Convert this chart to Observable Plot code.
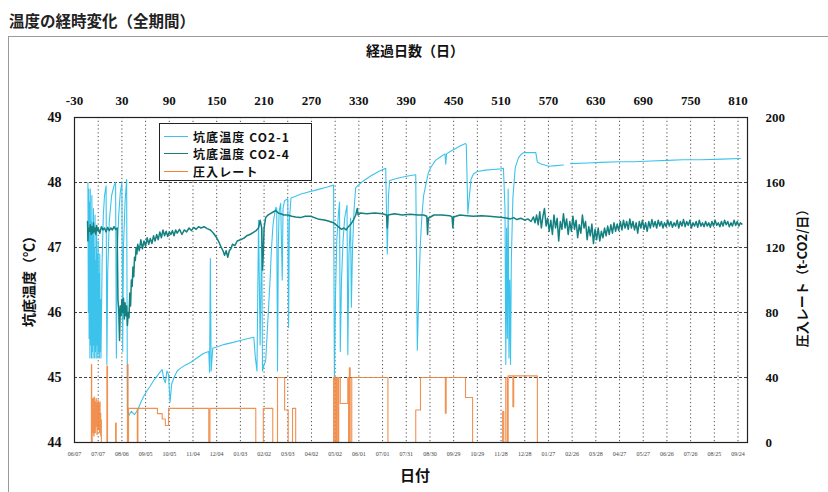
<!DOCTYPE html>
<html><head><meta charset="utf-8">
<script src="https://cdn.jsdelivr.net/npm/d3@7"></script>
<script src="https://cdn.jsdelivr.net/npm/@observablehq/plot@0.6"></script>
<style>
body{margin:0;background:#fff;width:828px;height:492px;overflow:hidden;position:relative;font-family:"Noto Sans CJK JP","Noto Sans",sans-serif;}
#chart{position:absolute;left:0;top:0;}
#chart svg, #chart svg text{font-family:"Liberation Serif","DejaVu Serif",serif !important;}
#frame{position:absolute;left:8px;top:36px;width:900px;height:600px;border-left:1.5px solid #9a9a9a;border-top:1.5px solid #9a9a9a;z-index:5;pointer-events:none;}
#title{position:absolute;left:9px;top:9px;font-size:15.5px;font-weight:bold;color:#222;white-space:nowrap;}
.lbl{position:absolute;font-weight:bold;color:#111;white-space:nowrap;transform:translate(-50%,-50%);z-index:6;}
.rot{transform:translate(-50%,-50%) rotate(-90deg);}
#legend{position:absolute;left:159px;top:123px;width:151px;height:56px;border:1.5px solid #222;background:#fff;z-index:6;}
#legend .sw{position:absolute;left:4px;width:24px;height:0;border-top:1.5px solid;}
#legend .tx{position:absolute;left:33px;font-size:12px;font-weight:bold;color:#111;white-space:nowrap;letter-spacing:1.1px;transform:translateY(-50%);}
</style></head>
<body>
<div id="chart"></div>
<div id="frame"></div>
<div id="title">温度の経時変化（全期間）</div>
<div class="lbl" style="left:415px;top:50px;font-size:14px;">経過日数（日）</div>
<div class="lbl" style="left:415px;top:474px;font-size:15px;">日付</div>
<div class="lbl rot" style="left:28px;top:278px;font-size:14px;">坑底温度（℃）</div>
<div class="lbl rot" style="left:801px;top:275px;font-size:13px;">圧入レート（t-CO2/日）</div>
<div id="legend"></div>
<script>
// elapsed days (day 0 = 2003-07-07)
const topTicks = d3.range(-30, 811, 60);
const dateTicks = d3.range(-30, 811, 30);
const tempTicks = [44, 45, 46, 47, 48, 49];
const rateTicks = [0, 40, 80, 120, 160, 200];
const seriesNames = ["坑底温度 CO2-1", "坑底温度 CO2-4", "圧入レート"];
const seriesColors = ["#3cc3ec", "#148080", "#f0843c"];

// CO2-1 bottom-hole temperature [day, °C]
const co2_1 = [
[-13,48.0],[-12.5,46.0],[-12,47.9],[-11.5,45.6],[-11,47.7],[-10.5,45.3],[-10,47.9],[-9.5,45.5],[-9,47.4],[-8.5,45.3],[-8,47.8],[-7.5,45.4],[-7,47.2],[-6.5,45.3],[-6,47.6],[-5.5,45.5],[-5,47.0],[-4.5,45.3],[-4,47.5],[-3.5,45.4],[-3,46.8],[-2.5,45.3],[-2,47.3],[-1.5,45.5],[-1,46.9],[-0.5,45.3],[0,47.1],[0.5,45.4],[1,46.6],[1.5,45.3],[2,46.9],[2.5,45.4],[3,46.2],[3.5,45.3],
[5,46.8],[6.5,47.5],[8,47.8],[10,47.95],[11,45.2],[12,46.6],[14,47.4],[17,47.8],[20,47.95],[22,48.0],[23,45.3],[24,46.9],[26,47.5],[28,47.85],[30,48.0],[31,45.4],[32,47.0],[34,47.7],[36,48.05],[37,44.5],[39,44.42],[42,44.48],[46,44.43],[50,44.5],[54,44.62],[58,44.72],[62,44.8],[66,44.87],[70,44.95],[75,45.03],[78,45.08],[81,45.12],[83,44.98],[85,44.92],[87,45.1],[89,45.05],[91,44.62],[93,44.9],[96,45.0],[100,45.1],[104,45.14],[110,45.19],[117,45.23],[125,45.3],[133,45.37],[140,45.4],[141,45.08],[142,46.83],[143,45.1],[145,45.45],[150,45.47],[160,45.51],[171,45.54],[180,45.57],[190,45.6],[197,45.62],[199,45.3],[201,45.1],[203,47.42],[205,45.5],[207,47.3],[208,45.1],[210,45.2],[212,45.25],[214,45.7],[216,46.14],[218,46.6],[219,46.9],[221,47.3],[222,47.42],[225,47.62],[226,47.6],[227,45.1],[228,47.0],[229,47.55],[231,47.68],[233,46.5],[234,47.6],[236,47.72],[240,47.75],[241,45.77],[242,47.4],[244,47.76],[250,47.79],[256,47.82],[265,47.85],[278,47.89],[290,47.93],[298,47.96],
[299,45.0],[300.5,46.3],[302,47.1],[304,47.5],[305.5,47.7],[306.5,45.4],[308,46.5],[310,47.1],[312,47.45],[315,47.65],[316,45.35],[317.5,46.9],[319.5,47.45],[320.5,46.08],[322,47.0],[324,47.6],[326,47.92],[335,48.02],[345,48.1],[355,48.17],[364,48.22],[366,46.9],[367.5,47.8],[369,48.03],[380,48.07],[392,48.1],[402,48.12],[404,45.42],[406,46.4],[408,47.1],[410,47.52],[412,47.8],[415,47.98],[418,48.15],[421,48.23],[427,48.34],[434,48.4],[439,48.44],[440,48.28],[441,48.44],[446,48.48],[452,48.52],[458,48.56],[465,48.6],[466,48.58],[468,47.52],[470,47.8],[472,48.05],[475,48.13],[480,48.17],[490,48.19],[500,48.2],[510,48.21],[513,48.22],[515,47.6],[516,45.2],[517,47.3],[518,45.6],[519,47.9],[520,45.3],[521,46.5],[522,45.2],[523,46.8],[525,47.77],[528,48.23],[532,48.38],[536,48.44],[539,48.46],[546,48.46],[554,48.46],[556,48.31],[560,48.29],[565,48.27],[570,48.25],[580,48.26],[589,48.27],[593,NaN],[598,48.29],[620,48.3],[636,48.31],[660,48.32],[678,48.32],[700,48.33],[721,48.34],[740,48.35],[763,48.35],[790,48.36],[813,48.37]
];

// CO2-4 bottom-hole temperature [day, °C]
const co2_4 = [
[-13.5,47.4],[-13,47.1],[-12.5,47.3],[-11,47.25],[-10,47.35],[-9,47.2],[-8,47.32],[-7,47.22],[-6,47.38],[-5,47.24],[-4,47.3],[-3,47.2],[-2,47.34],[-1,47.26],[0,47.3],[2,47.22],[4,47.32],[6,47.27],[8,47.3],[10,47.24],[12,47.31],[14,47.26],[16,47.3],[18,47.27],[20,47.32],[22,47.28],[24,47.3],
[25,46.2],[26,46.05],[27,45.57],[28,46.1],[29,45.95],[30,46.2],[31,46.0],[32,46.22],[33,45.9],[34,46.15],[35,45.95],[36,46.1],[37,45.8],[38,46.0],[39,45.92],[40,46.3],[41,46.1],[42,46.5],[43,46.4],[44,46.7],[45,46.55],[46,46.85],[47,46.8],[48,47.0],[49,46.9],[50,47.05],[52,46.95],[54,47.12],[56,46.98],[58,47.1],[60,47.02],[62,47.15],[64,47.05],[66,47.14],[68,47.06],[70,47.18],[72,47.1],[74,47.2],[76,47.12],[78,47.24],[80,47.15],[82,47.27],[84,47.18],[86,47.25],[88,47.17],[90,47.24],[92,47.2],[94,47.26],[96,47.18],[98,47.27],[100,47.22],[103,47.28],[106,47.2],[109,47.27],[112,47.24],[115,47.3],[118,47.26],[121,47.31],[124,47.28],[127,47.32],[130,47.3],[134,47.32],[138,47.29],[142,47.27],[146,47.22],[150,47.15],[153,47.08],[155,47.02],[158,46.95],[160,46.88],[162,46.95],[164,46.85],[166,46.95],[168,46.98],[170,47.05],[173,47.03],[176,47.1],[180,47.12],[184,47.14],[188,47.18],[192,47.2],[196,47.23],[200,47.26],[203,47.3],[205,47.42],[207,47.3],[208,46.65],[209,46.9],[210,47.3],[212,47.46],[215,47.5],[218,47.52],[222,47.55],[225,47.57],[228,47.53],[231,47.52],[235,47.5],[240,47.5],[245,47.48],[250,47.47],[256,47.46],[262,47.48],[269,47.48],[278,47.44],[288,47.42],[298,47.38],[304,47.32],[308,47.28],[311,47.3],[314,47.27],[316,47.31],[320,47.36],[323,47.42],[326,47.5],[328,47.6],[329,47.5],[332,47.53],[340,47.52],[350,47.53],[360,47.52],[365,47.5],[366,47.3],[367,47.5],[375,47.52],[385,47.5],[395,47.51],[405,47.5],[412,47.5],[416,47.48],[417,47.2],[418,47.45],[425,47.5],[435,47.5],[445,47.49],[448,47.47],[449,47.3],[450,47.47],[458,47.5],[467,47.49],[475,47.48],[485,47.49],[495,47.48],[505,47.47],[512,47.46],[518,47.45],[522,47.44],[526,47.46],[530,47.43],[535,47.45],[540,47.42],[544,47.44],[548,47.4],[551,47.47],[553,47.38],[555,47.5],[557,47.35],[559,47.55],[561,47.3],[563,47.48],[565,47.6],[567,47.33],[569,47.45],[571,47.25],[573,47.42],[575,47.2],[577,47.5],[579,47.3],[581,47.45],[583,47.1],[585,47.4],[587,47.28],[589,47.52],[591,47.3],[593,47.44],[595,47.2],[597,47.4],[599,47.25],[601,47.48],[603,47.28],[605,47.42],[607,47.15],[609,47.35],[611,47.22],[613,47.5],[615,47.3],[617,47.4],[619,47.12],[621,47.32],[623,47.18],[625,47.36],[627,47.06],[629,47.28],[631,47.12],[633,47.3],[635,47.1],[637,47.25],[639,47.15],[641,47.3],[643,47.18],[645,47.33],[647,47.2],[649,47.35],[651,47.22],[653,47.38],[655,47.25],[657,47.36],[659,47.26],[661,47.4],[663,47.27],[665,47.42],[667,47.3],[669,47.4],[671,47.28],[673,47.44],[675,47.3],[677,47.4],[679,47.27],[681,47.38],[683,47.22],[685,47.4],[687,47.3],[689,47.42],[691,47.28],[693,47.38],[695,47.25],[697,47.4],[699,47.3],[701,47.43],[703,47.32],[705,47.4],[707,47.3],[709,47.42],[711,47.33],[713,47.4],[715,47.3],[717,47.38],[719,47.32],[721,47.42],[723,47.33],[725,47.4],[727,47.31],[729,47.38],[731,47.33],[733,47.42],[735,47.3],[737,47.4],[739,47.33],[741,47.43],[743,47.32],[745,47.4],[747,47.34],[749,47.42],[751,47.3],[753,47.38],[755,47.33],[757,47.4],[759,47.31],[761,47.42],[763,47.33],[765,47.38],[767,47.32],[769,47.4],[771,47.33],[773,47.38],[775,47.31],[777,47.4],[779,47.33],[781,47.42],[783,47.34],[785,47.38],[787,47.32],[789,47.4],[791,47.33],[793,47.42],[795,47.35],[797,47.4],[799,47.32],[801,47.38],[803,47.33],[805,47.42],[807,47.34],[809,47.4],[811,47.33],[813,47.38],[815,47.36]
];

// injection rate [day, t-CO2/day]
const rate = [
[-30,0],[-9,0],[-8.6,48],[-8.2,0],[-7.6,24],[-7.2,6],[-6.8,27],[-6.4,10],[-6,22],[-5.6,4],[-5.2,28],[-4.8,12],[-4.4,25],[-4,6],[-3.6,20],[-3.2,10],[-2.8,27],[-2.4,14],[-2,24],[-1.6,5],[-1.2,22],[-0.8,12],[-0.4,26],[0,8],[0.4,24],[0.8,15],[1.2,20],[1.6,6],[2,25],[2.4,10],[2.8,18],[3.2,4],[3.6,14],[4,0],
[11,47],[11.8,0],[22,12],[22.8,0],[37,48],[37.8,0],[38.4,21],[49.5,0],[50.3,21],[75,17.8],[81,14.5],[85,10.5],[89,21],[140,0],[141.5,21],[199.5,0],[209,21],[221,0],[227,40],[236,20],[240.5,0],[246,21],[250,0],[298,40],[299.5,0],[300,40],[301.5,0],[302,40],[303.5,0],[304.5,40],[306.5,24],[316,40],[317,0],[318,46],[319,0],[321,40],[366.8,0],[402,20],[408,40],[439.5,18],[440.5,40],[465,27.7],[474,0],[512,19],[513.5,0],[516,40],[518,0],[519,41],[525,22],[526,41],[556,0],[822,0]
];

const base = Date.UTC(2003, 6, 7);
const fmtDate = d3.utcFormat("%m/%d");
const dayToDate = d => fmtDate(new Date(base + d * 864e5));
const rateToY = r => 44 + r * 5 / 200;
const serif = "Liberation Serif";

const chart = Plot.plot({
  width: 828, height: 492,
  marginLeft: 74, marginRight: 81, marginTop: 117, marginBottom: 50,
  x: {domain: [-30, 822]},
  y: {domain: [44, 49]},
  style: {fontSize: "13px", color: "#111", background: "#fff", fontFamily: serif},
  marks: [
    Plot.gridX({ticks: dateTicks.filter(d => d > -30), stroke: "#333", strokeOpacity: 0.85, strokeDasharray: "1.2,2.6"}),
    Plot.gridY({ticks: tempTicks.slice(1, 5), stroke: "#222", strokeOpacity: 0.85, strokeDasharray: "3,2"}),
    Plot.line(co2_1, {x: d => d[0], y: d => d[1], stroke: seriesColors[0], strokeWidth: 1.1}),
    Plot.line(co2_4, {x: d => d[0], y: d => d[1], stroke: seriesColors[1], strokeWidth: 1.5}),
    Plot.line(rate, {x: d => d[0], y: d => rateToY(d[1]), curve: "step-after", stroke: seriesColors[2], strokeWidth: 1.1, strokeOpacity: 0.9}),
    Plot.frame({stroke: "#222", strokeWidth: 1.2}),
    Plot.axisY({ticks: tempTicks, tickFormat: d => d.toFixed(0), tickSize: 0, tickPadding: 13, label: null, fontWeight: "bold", fontSize: 14, fontFamily: serif}),
    Plot.axisY({anchor: "right", ticks: rateTicks.map(rateToY), tickFormat: (d, i) => String(rateTicks[i]), tickSize: 0, tickPadding: 18, label: null, fontSize: 13, fontWeight: "bold", fontFamily: serif}),
    Plot.axisX({anchor: "top", ticks: topTicks, tickFormat: d => String(d), tickSize: 0, tickPadding: 13, label: null, fontWeight: "bold", fontSize: 13, fontFamily: serif}),
    Plot.axisX({anchor: "bottom", ticks: dateTicks, tickFormat: dayToDate, tickSize: 0, tickPadding: 9, label: null, fontSize: 6, fill: "#444", fontFamily: serif})
  ]
});
document.getElementById("chart").appendChild(chart);
chart.querySelectorAll("text").forEach(t => t.style.fontFamily = "'Liberation Serif', 'DejaVu Serif', serif");

// legend
const lg = document.getElementById("legend");
const rowY = [11.5, 29, 47];
seriesNames.forEach((name, i) => {
  const sw = document.createElement("span");
  sw.className = "sw"; sw.style.top = rowY[i] + "px"; sw.style.borderColor = seriesColors[i];
  lg.appendChild(sw);
  const tx = document.createElement("span");
  tx.className = "tx"; tx.style.top = rowY[i] + "px"; tx.textContent = name;
  lg.appendChild(tx);
});
</script>
</body></html>
